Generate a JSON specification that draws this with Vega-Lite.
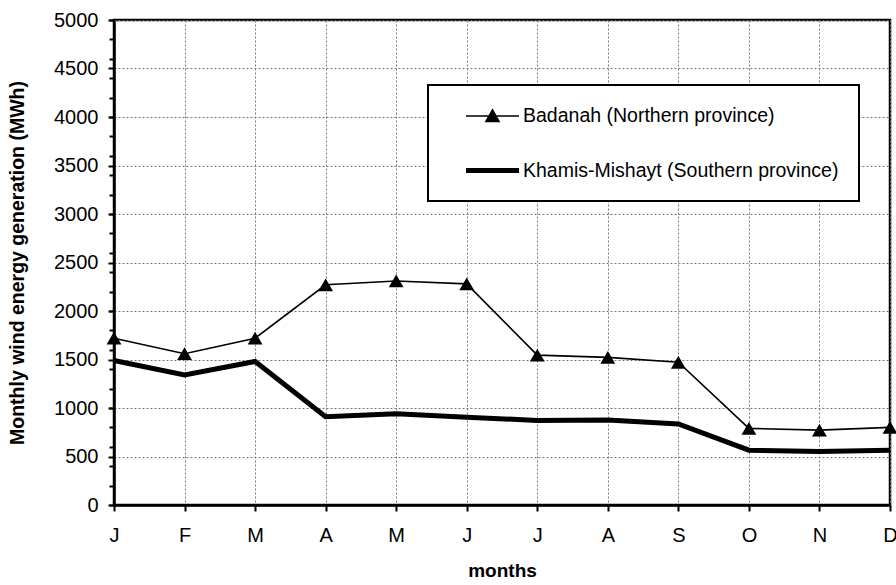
{
  "$schema": "https://vega.github.io/schema/vega-lite/v6.json",
  "width": 776,
  "height": 485,
  "autosize": {"type": "none"},
  "padding": {"left": 114, "top": 20, "right": 6, "bottom": 80},
  "background": "white",
  "config": {
    "font": "Liberation Sans",
    "view": {"stroke": "black", "strokeWidth": 2.5},
    "axis": {"labelFont": "Liberation Sans", "titleFont": "Liberation Sans", "labelColor": "black", "titleColor": "black"}
  },
  "data": {
    "values": [
      {"month": "Jan", "site": "Badanah (Northern province)", "value": 1720},
      {"month": "Feb", "site": "Badanah (Northern province)", "value": 1560},
      {"month": "Mar", "site": "Badanah (Northern province)", "value": 1720},
      {"month": "Apr", "site": "Badanah (Northern province)", "value": 2270},
      {"month": "May", "site": "Badanah (Northern province)", "value": 2310},
      {"month": "Jun", "site": "Badanah (Northern province)", "value": 2280},
      {"month": "Jul", "site": "Badanah (Northern province)", "value": 1545},
      {"month": "Aug", "site": "Badanah (Northern province)", "value": 1522},
      {"month": "Sep", "site": "Badanah (Northern province)", "value": 1472},
      {"month": "Oct", "site": "Badanah (Northern province)", "value": 790},
      {"month": "Nov", "site": "Badanah (Northern province)", "value": 772},
      {"month": "Dec", "site": "Badanah (Northern province)", "value": 800},
      {"month": "Jan", "site": "Khamis-Mishayt (Southern province)", "value": 1490},
      {"month": "Feb", "site": "Khamis-Mishayt (Southern province)", "value": 1340},
      {"month": "Mar", "site": "Khamis-Mishayt (Southern province)", "value": 1480},
      {"month": "Apr", "site": "Khamis-Mishayt (Southern province)", "value": 910},
      {"month": "May", "site": "Khamis-Mishayt (Southern province)", "value": 940},
      {"month": "Jun", "site": "Khamis-Mishayt (Southern province)", "value": 905},
      {"month": "Jul", "site": "Khamis-Mishayt (Southern province)", "value": 872},
      {"month": "Aug", "site": "Khamis-Mishayt (Southern province)", "value": 876},
      {"month": "Sep", "site": "Khamis-Mishayt (Southern province)", "value": 835},
      {"month": "Oct", "site": "Khamis-Mishayt (Southern province)", "value": 565},
      {"month": "Nov", "site": "Khamis-Mishayt (Southern province)", "value": 552},
      {"month": "Dec", "site": "Khamis-Mishayt (Southern province)", "value": 565}
    ]
  },
  "layer": [
    {
      "mark": {"type": "line", "strokeJoin": "miter", "strokeCap": "butt"},
      "encoding": {
        "x": {
          "field": "month", "type": "ordinal",
          "sort": ["Jan","Feb","Mar","Apr","May","Jun","Jul","Aug","Sep","Oct","Nov","Dec"],
          "scale": {"type": "point", "padding": 0},
          "axis": {
            "title": "months", "titleFontSize": 19, "titleFontWeight": "bold", "titlePadding": 16,
            "labelExpr": "substring(datum.label, 0, 1)", "labelAngle": 0, "labelFontSize": 20, "labelPadding": 14,
            "grid": true, "gridColor": "#777777", "gridDash": [2, 2], "gridWidth": 1,
            "domainColor": "black", "domainWidth": 2.5,
            "tickColor": "black", "tickWidth": 2, "tickSize": 6
          }
        },
        "y": {
          "field": "value", "type": "quantitative",
          "scale": {"domain": [0, 5000], "nice": false, "zero": true},
          "axis": {
            "title": "Monthly wind energy generation (MWh)", "titleFontSize": 19.5, "titleFontWeight": "bold", "titlePadding": 26,
            "values": [0,500,1000,1500,2000,2500,3000,3500,4000,4500,5000], "format": "d",
            "labelFontSize": 20, "labelPadding": 10,
            "grid": true, "gridColor": "#777777", "gridDash": [2, 2], "gridWidth": 1,
            "domainColor": "black", "domainWidth": 2.5,
            "tickColor": "black", "tickWidth": 2, "tickSize": 6,
            "orient": "left"
          }
        },
        "color": {
          "field": "site", "type": "nominal",
          "scale": {"domain": ["Badanah (Northern province)", "Khamis-Mishayt (Southern province)"], "range": ["black", "black"]},
          "legend": {
            "title": null,
            "orient": "none", "legendX": 314, "legendY": 65,
            "padding": 20, "rowPadding": 32,
            "strokeColor": "black", "fillColor": "white",
            "labelFontSize": 19.5, "labelColor": "black", "labelFont": "Liberation Sans", "labelLimit": 500,
            "symbolSize": 400, "symbolOffset": 32, "labelOffset": 18,
            "symbolType": "M-2.65,0H2.65",
            "encode": {
              "legend": {"update": {"strokeWidth": {"value": 2}}},
              "symbols": {
                "update": {
                  "shape": {"signal": "datum.value == 'Badanah (Northern province)' ? 'M-2.65,0H2.65M-0.65,0.55L0,-0.6L0.65,0.55Z' : 'M-2.65,0H2.65'"},
                  "strokeWidth": {"signal": "datum.value == 'Badanah (Northern province)' ? 1.5 : 6"},
                  "stroke": {"value": "black"},
                  "fill": {"value": "black"},
                  "fillOpacity": {"value": 1},
                  "opacity": {"value": 1}
                }
              }
            }
          }
        },
        "strokeWidth": {
          "field": "site", "type": "nominal",
          "scale": {"domain": ["Badanah (Northern province)", "Khamis-Mishayt (Southern province)"], "range": [1.6, 5]},
          "legend": null
        }
      }
    },
    {
      "transform": [{"filter": "datum.site == 'Badanah (Northern province)'"}],
      "mark": {"type": "point", "shape": "triangle-up", "filled": true, "color": "black", "size": 220, "opacity": 1},
      "encoding": {
        "x": {
          "field": "month", "type": "ordinal",
          "sort": ["Jan","Feb","Mar","Apr","May","Jun","Jul","Aug","Sep","Oct","Nov","Dec"],
          "scale": {"type": "point", "padding": 0}
        },
        "y": {
          "field": "value", "type": "quantitative",
          "scale": {"domain": [0, 5000], "nice": false, "zero": true},
          "axis": {
            "title": null, "orient": "left",
            "values": [0,200,400,600,800,1000,1200,1400,1600,1800,2000,2200,2400,2600,2800,3000,3200,3400,3600,3800,4000,4200,4400,4600,4800,5000],
            "labels": false, "grid": false, "domain": false,
            "tickColor": "black", "tickWidth": 2, "tickSize": 5
          }
        }
      }
    }
  ],
  "resolve": {"axis": {"y": "independent"}}
}
